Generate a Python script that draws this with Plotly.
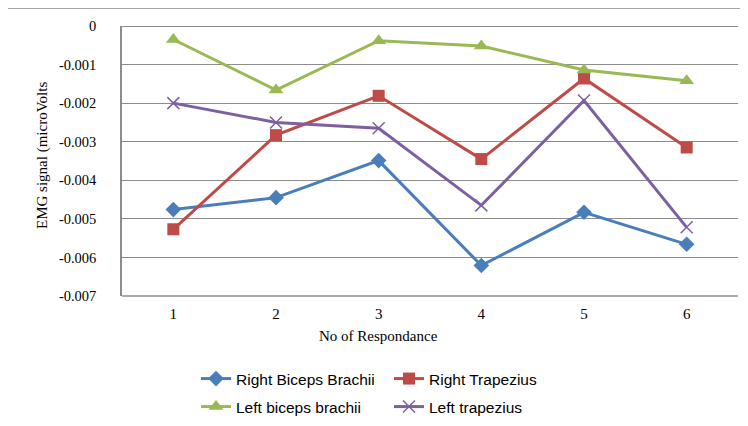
import plotly.graph_objects as go

categories = ["1", "2", "3", "4", "5", "6"]
right_biceps = [-0.00476, -0.00445, -0.00349, -0.00621, -0.00483, -0.00566]
right_trapezius = [-0.00527, -0.00283, -0.00181, -0.00345, -0.00136, -0.00315]
left_biceps = [-0.00035, -0.00166, -0.00038, -0.00052, -0.00114, -0.00142]
left_trapezius = [-0.00200, -0.00250, -0.00265, -0.00465, -0.00193, -0.00522]
y_tickvals = [0, -0.001, -0.002, -0.003, -0.004, -0.005, -0.006, -0.007]
y_ticktext = ["0", "-0.001", "-0.002", "-0.003", "-0.004", "-0.005", "-0.006", "-0.007"]

# page body has an 8px margin: figure origin sits at screen (8, 8)
OFF = 8
W, H = 740, 418
ML, MR, MT = 122 - OFF, 10, 26 - OFF
MB = H - (296 - OFF)
PW = W - ML - MR
PH = H - MT - MB

SERIF = "Liberation Serif"
SANS = "Liberation Sans"

def px_x(p):
    return (p - OFF - ML) / PW

def px_y(p):
    return (H - MB - (p - OFF)) / PH

fig = go.Figure()

series = [
    ("Right Biceps Brachii", right_biceps, "#4A7EBB", dict(symbol="diamond", size=12), "legend"),
    ("Right Trapezius", right_trapezius, "#BE4B48", dict(symbol="square", size=12), "legend2"),
    ("Left biceps brachii", left_biceps, "#98B954", dict(symbol="triangle-up", size=13), "legend3"),
    ("Left trapezius", left_trapezius, "#7D60A0", dict(symbol="x-thin", size=12, line=dict(width=1.5, color="#7D60A0")), "legend4"),
]

for name, vals, color, mk, lg in series:
    fig.add_trace(go.Scatter(
        x=categories, y=vals, name=name, mode="lines+markers",
        line=dict(color=color, width=3),
        marker=dict(color=color, **mk),
        legend=lg,
    ))

legend_font = dict(family=SANS, size=15.5, color="#000000")
leg_pos = {
    "legend": (196, 379),
    "legend2": (389, 379),
    "legend3": (196, 407),
    "legend4": (389, 407),
}
legend_layout = {}
for key, (lx, ly) in leg_pos.items():
    legend_layout[key] = dict(
        x=px_x(lx), y=px_y(ly), xanchor="left", yanchor="middle",
        orientation="h", font=legend_font, bgcolor="rgba(0,0,0,0)",
        borderwidth=0, itemwidth=30,
    )

fig.update_layout(
    width=W, height=H,
    margin=dict(l=ML, r=MR, t=MT, b=MB, autoexpand=False),
    paper_bgcolor="white", plot_bgcolor="white",
    showlegend=True,
    **legend_layout,
    xaxis=dict(
        type="category", range=[-0.5, 5.5], automargin=False,
        showgrid=False, zeroline=False,
        showline=False, ticks="",
        tickfont=dict(family=SERIF, size=15, color="#000"),
        ticklabelstandoff=7,
    ),
    yaxis=dict(
        range=[-0.007, 0], automargin=False,
        tickvals=y_tickvals, ticktext=y_ticktext,
        showgrid=True, gridcolor="#8C8C8C", gridwidth=1,
        zeroline=True, zerolinecolor="#8C8C8C", zerolinewidth=1,
        showline=True, linecolor="#8C8C8C", linewidth=1.5,
        ticks="",
        tickfont=dict(family=SERIF, size=14.5, color="#000"),
        ticklabelstandoff=21,
    ),
    shapes=[
        dict(type="rect", xref="paper", yref="paper",
             x0=px_x(7.5), x1=px_x(790), y0=px_y(480), y1=px_y(8.5),
             line=dict(color="#A6A6A6", width=1), fillcolor="rgba(0,0,0,0)", layer="below"),
        dict(type="line", xref="paper", yref="paper",
             x0=0, x1=1, y0=0, y1=0,
             line=dict(color="#8C8C8C", width=1.3)),
    ],
    annotations=[
        dict(text="No of Respondance", xref="paper", yref="paper",
             x=px_x(378), y=px_y(336), xanchor="center", yanchor="middle",
             showarrow=False,
             font=dict(family=SERIF, size=15, color="#000")),
        dict(text="EMG signal (microVolts", xref="paper", yref="paper",
             x=px_x(42), y=px_y(156), xanchor="center", yanchor="middle",
             textangle=-90, showarrow=False,
             font=dict(family=SERIF, size=15, color="#000")),
    ],
)

fig.write_html("out.html")
